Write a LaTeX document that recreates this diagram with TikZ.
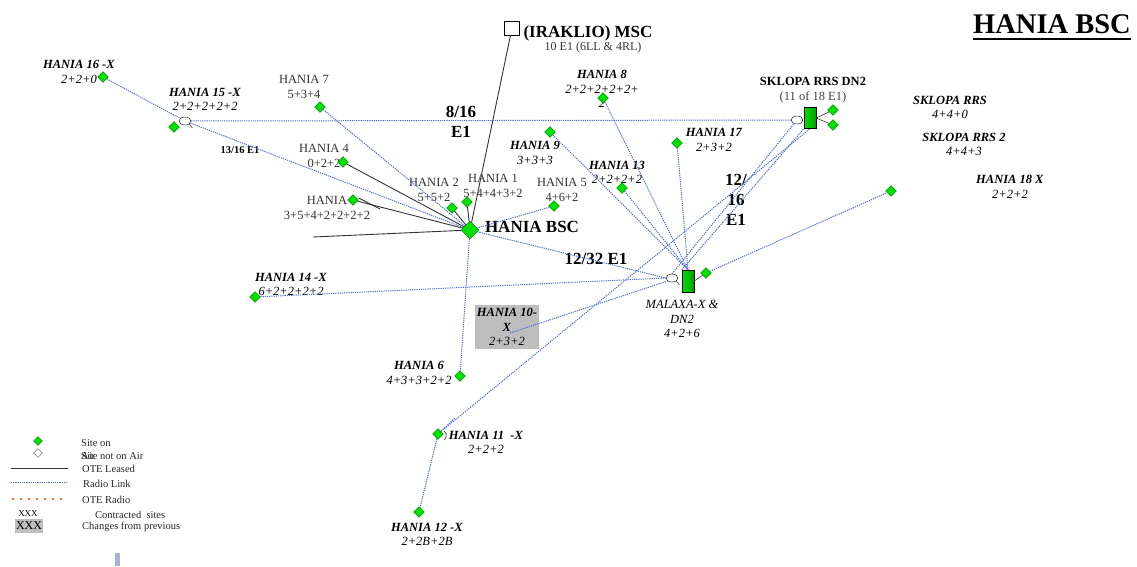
\documentclass[tikz,border=0pt]{standalone}
\usepackage{fontspec}
\setmainfont{Liberation Serif}
\usetikzlibrary{shapes.geometric}
\definecolor{sitegreen}{RGB}{0,225,0}
\definecolor{siteedge}{RGB}{0,110,0}
\definecolor{radioblue}{RGB}{80,105,215}
\definecolor{oteorange}{RGB}{240,110,30}
\definecolor{changegray}{RGB}{190,190,190}
\definecolor{markgray}{RGB}{170,178,210}
\begin{document}
\begin{tikzpicture}[x=1pt,y=-1pt]
  \tikzstyle{every node}=[font=\fontsize{12.5}{14.5}\selectfont]
  \tikzstyle{site}=[diamond,draw=siteedge,fill=sitegreen,minimum size=11pt,inner sep=0pt]
  \tikzstyle{rrs}=[rectangle,draw=black,left color=sitegreen,right color=sitegreen!70!black,minimum width=12pt,minimum height=21pt,inner sep=0pt]
  \tikzstyle{ant}=[ellipse,draw=black,fill=white,minimum width=12pt,minimum height=8pt,inner sep=0pt]
  \tikzstyle{leased}=[draw=black!80,line width=0.9pt]
  \tikzstyle{radio}=[draw=radioblue,line width=1pt,dash pattern=on 1.2pt off 1pt]
  \tikzstyle{lbl}=[align=center,inner sep=0pt]
  \tikzstyle{link}=[align=center,inner sep=0pt,font=\fontsize{17}{20}\selectfont\bfseries]
  \tikzstyle{legtext}=[anchor=west,inner sep=0pt,font=\fontsize{10.5}{12}\selectfont,text=black!85]
  \tikzstyle{changed}=[rectangle,fill=changegray,inner sep=0pt]
  \useasboundingbox (0,0) rectangle (1137,566);
  % labels
  \node[inner sep=0pt,font=\fontsize{28.5}{30}\selectfont\bfseries] (title) at (1052,24) {HANIA BSC};
  \draw[line width=1.8pt] ([yshift=-6pt]title.base west) -- ([yshift=-6pt]title.base east);
  \node[lbl,font=\fontsize{17}{20}\selectfont\bfseries] (lmsc) at (588,33) {(IRAKLIO) MSC};
  \node[lbl,font=\fontsize{12}{14}\selectfont,text=black!80] (lmsce1) at (593,48) {10 E1 (6LL \& 4RL)};
  \node[lbl,font=\fontsize{17}{20}\selectfont\bfseries] (lbsc) at (532,227) {HANIA BSC};
  \node[lbl] (l16) at (79,72) {\textbf{\textit{HANIA 16 -X}}\\\textit{2+2+0}};
  \node[lbl] (l15) at (205,99.5) {\textbf{\textit{HANIA 15 -X}}\\\textit{2+2+2+2+2}};
  \node[lbl,text=black!80] (l7) at (304,87) {HANIA 7\\5+3+4};
  \node[lbl,text=black!80] (l4) at (324,156) {HANIA 4\\0+2+2};
  \node[lbl,text=black!80] (l0) at (327,208) {HANIA\\3+5+4+2+2+2+2};
  \node[lbl,text=black!80] (l2) at (434,190) {HANIA 2\\5+5+2};
  \node[lbl,text=black!80] (l1) at (493,186) {HANIA 1\\5+4+4+3+2};
  \node[lbl,text=black!80] (l5) at (562,190) {HANIA 5\\4+6+2};
  \node[lbl] (l9) at (535,153) {\textbf{\textit{HANIA 9}}\\\textit{3+3+3}};
  \node[lbl] (l8) at (602,89) {\textbf{\textit{HANIA 8}}\\\textit{2+2+2+2+2+}\\\textit{2}};
  \node[lbl] (l13) at (617,172.5) {\textbf{\textit{HANIA 13}}\\\textit{2+2+2+2}};
  \node[lbl] (l17) at (714,140) {\textbf{\textit{HANIA 17}}\\\textit{2+3+2}};
  \node[lbl] (lsk) at (813,90) {\textbf{SKLOPA RRS DN2}\\\textcolor{black!75}{(11 of 18 E1)}};
  \node[lbl] (lskrrs) at (950,107.5) {\textbf{\textit{SKLOPA RRS}}\\\textit{4+4+0}};
  \node[lbl] (lskrrs2) at (964,144.5) {\textbf{\textit{SKLOPA RRS 2}}\\\textit{4+4+3}};
  \node[lbl] (l18) at (1010,187) {\textbf{\textit{HANIA 18 X}}\\\textit{2+2+2}};
  \node[lbl] (l14) at (291,284.5) {\textbf{\textit{HANIA 14 -X}}\\\textit{6+2+2+2+2}};
  \node[lbl] (lmalaxa) at (682,319) {\textit{MALAXA-X \&}\\\textit{DN2}\\\textit{4+2+6}};
  \node[changed,minimum width=64pt,minimum height=44pt] (h10) at (507,327) {};
  \node[lbl] (l10) at (h10) {\textbf{\textit{HANIA 10-}}\\\textbf{\textit{X}}\\\textit{2+3+2}};
  \node[lbl] (l6) at (419,373) {\textbf{\textit{HANIA 6}}\\\textit{4+3+3+2+2}};
  \node[lbl] (l11) at (486,442.5) {\textbf{\textit{HANIA 11 \ -X}}\\\textit{2+2+2}};
  \node[lbl] (l12) at (427,534.5) {\textbf{\textit{HANIA 12 -X}}\\\textit{2+2B+2B}};
  \node[link] (e816) at (461,122) {8/16\\E1};
  \node[link,font=\fontsize{10.5}{12}\selectfont\bfseries] (e1316) at (240,150) {13/16 E1};
  \node[link] (e1232) at (596,259) {12/32 E1};
  \node[link] (e1216) at (736,200) {12/\\16\\E1};
  % sites
  \node[rectangle,draw=black,fill=white,minimum width=15pt,minimum height=14pt,inner sep=0pt] (msc) at (512,28) {};
  \node[site,minimum size=18pt] (bsc) at (470,230) {};
  \node[rrs] (sklopa) at (810,118) {};
  \node[ant] (sklopaant) at (797,120) {};
  \node[site] (sk1) at (833,110) {};
  \node[site] (sk2) at (833,125) {};
  \node[rrs,minimum height=22pt] (malaxa) at (688,281) {};
  \node[ant] (malaxaant) at (672,278) {};
  \node[site] (malaxasite) at (706,273) {};
  \node[site] (h16) at (103,77) {};
  \node[site] (h15) at (174,127) {};
  \node[ant] (h15ant) at (185,121) {};
  \node[site] (h7) at (320,107) {};
  \node[site] (h4) at (343,162) {};
  \node[site] (h0) at (353,200) {};
  \node[site] (h2) at (452,208) {};
  \node[site] (h1) at (467,202) {};
  \node[site] (h5) at (554,206) {};
  \node[site] (h9) at (550,132) {};
  \node[site] (h8) at (603,98) {};
  \node[site] (h13) at (622,188) {};
  \node[site] (h17) at (677,143) {};
  \node[site] (h18) at (891,191) {};
  \node[site] (h14) at (255,297) {};
  \node[site] (h6) at (460,376) {};
  \node[site] (h11) at (438,434) {};
  \node[site] (h12) at (419,512) {};
  \coordinate (cutend) at (313,237);
  \coordinate (h0end) at (380,209);
  \coordinate (h11stub) at (455,418);
  % leased lines
  \draw[leased] (msc) -- (bsc);
  \draw[leased] (h4) -- (bsc);
  \draw[leased] (h0) -- (bsc);
  \draw[leased] ([yshift=2pt]h0.east) -- (h0end);
  \draw[leased] (h2) -- (bsc);
  \draw[leased] (h1) -- (bsc);
  \draw[leased] (cutend) -- (bsc);
  \draw[leased,line width=0.6pt] (sklopa.east) -- (sk1);
  \draw[leased,line width=0.6pt] (sklopa.east) -- (sk2);
  \draw[leased,line width=0.6pt] (malaxa.east) -- (malaxasite);
  \draw[leased,line width=0.5pt] (h15ant.south east) -- ++(3,4);
  \draw[leased,line width=0.5pt] (malaxaant.south east) -- ++(3,4);
  \draw[leased,line width=0.6pt] (444,431) arc[start angle=-60,end angle=60,radius=5];
  % radio links
  \draw[radio] (h16) -- (h15ant);
  \draw[radio] (h15ant) -- (sklopaant);
  \draw[radio] (h15ant) -- (bsc);
  \draw[radio] (h7) -- (bsc);
  \draw[radio] (h5) -- (bsc);
  \draw[radio] (bsc) -- (h6);
  \draw[radio] (bsc) -- (malaxaant.west);
  \draw[radio] (h14) -- (malaxaant.west);
  \draw[radio] (510,333) -- (malaxaant.south west);
  \draw[radio] (h9) -- (malaxa.north);
  \draw[radio] (h8) -- (malaxa.north);
  \draw[radio] (h13) -- (malaxa.north);
  \draw[radio] (h17) -- (malaxa.north);
  \draw[radio] (malaxaant.north) -- (sklopaant);
  \draw[radio] (malaxa.north west) -- (sklopa.south west);
  \draw[radio] (malaxasite) -- (h18);
  \draw[radio] (h11) -- (sklopa.south);
  \draw[radio] (h11.north east) -- (h11stub);
  \draw[radio] (h11) -- (h12);
  % legend
  \node[site,minimum size=9pt] (legon) at (38,441) {};
  \node[site,fill=white,draw=black!70,minimum size=9pt] (legoff) at (38,453) {};
  \node[legtext] (tlegon) at (81,443) {Site on};
  \node[legtext] (tlegair) at (81,456) {Air};
  \node[legtext] (tlegoff) at (81,456) {Site not on Air};
  \coordinate (lgleasedA) at (11,468);
  \coordinate (lgleasedB) at (68,468);
  \coordinate (lgradioA) at (11,482);
  \coordinate (lgradioB) at (68,482);
  \coordinate (lgoteA) at (13,499);
  \coordinate (lgoteB) at (61,499);
  \draw[leased] (lgleasedA) -- (lgleasedB);
  \draw[radio] (lgradioA) -- (lgradioB);
  \draw[draw=oteorange,line width=2.6pt,line cap=round,dash pattern=on 0pt off 8pt] (lgoteA) -- (lgoteB);
  \node[legtext] (tleased) at (82,469) {OTE Leased};
  \node[legtext] (tradio) at (83,484) {Radio Link};
  \node[legtext] (tote) at (82,500) {OTE Radio};
  \node[inner sep=0pt,font=\fontsize{9}{10}\selectfont] (lgxxx) at (28,514) {XXX};
  \node[legtext] (tcontr) at (95,515) {Contracted \ sites};
  \node[changed,minimum width=28pt,minimum height=14pt,font=\fontsize{12}{13}\selectfont] (lgchg) at (29,526) {XXX};
  \node[legtext] (tchg) at (82,527) {Changes from previous};
  \fill[markgray] (115,553) rectangle (120,566);
\end{tikzpicture}
\end{document}
